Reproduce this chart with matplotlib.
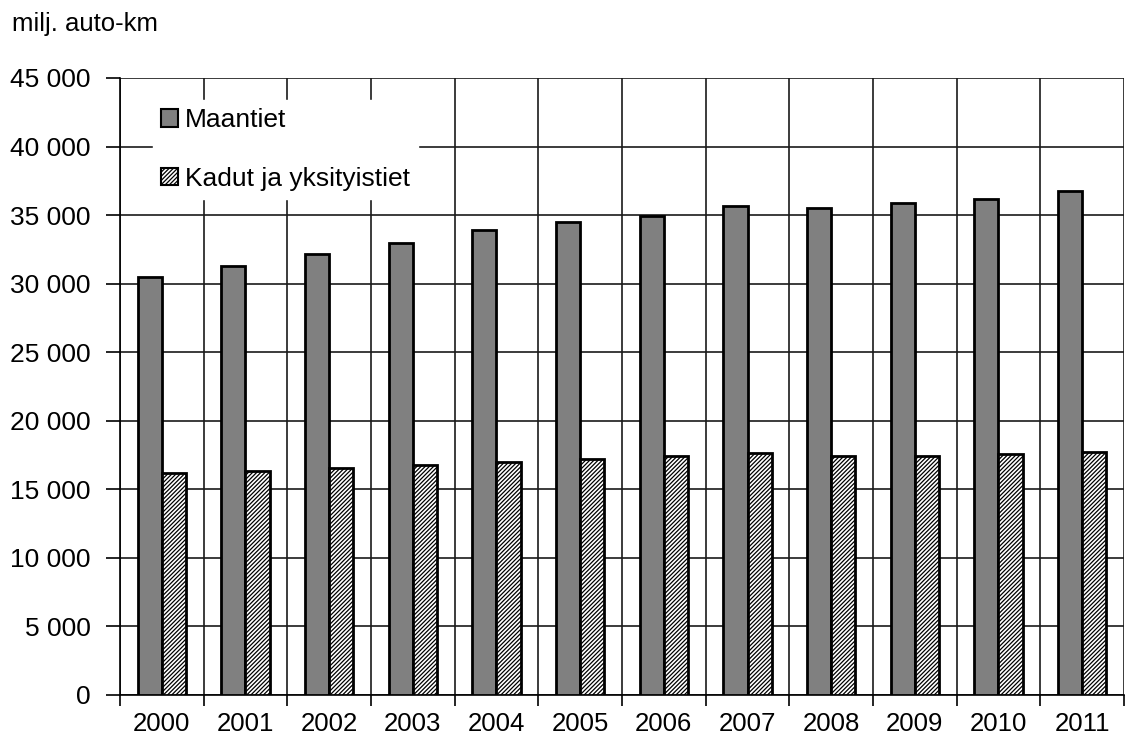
import matplotlib
matplotlib.use("Agg")
import matplotlib.pyplot as plt
import numpy as np
from matplotlib.ticker import FuncFormatter, FixedLocator

years = ["2000", "2001", "2002", "2003", "2004", "2005",
         "2006", "2007", "2008", "2009", "2010", "2011"]
maantiet = [30500, 31300, 32200, 33000, 33900, 34500,
            34900, 35700, 35550, 35850, 36200, 36750]
kadut = [16200, 16350, 16580, 16750, 17000, 17200,
         17400, 17650, 17400, 17450, 17600, 17720]
y_ticks = list(range(0, 45001, 5000))

plt.rcParams['font.family'] = ['Liberation Sans', 'DejaVu Sans']
plt.rcParams['hatch.linewidth'] = 0.9

fig = plt.figure(figsize=(11.31, 7.40), dpi=100)
ax = fig.add_axes([120 / 1131, 1 - 695 / 740, (1124 - 120) / 1131, (695 - 78) / 740])

x = np.arange(len(years))
w = 0.29
ax.bar(x - w / 2, maantiet, width=w, color="#808080", edgecolor="black",
       linewidth=2, label="Maantiet", zorder=3)
ax.bar(x + w / 2, kadut, width=w, color="white", edgecolor="black",
       linewidth=2, hatch="////////", label="Kadut ja yksityistiet", zorder=3)

ax.set_xlim(-0.5, len(years) - 0.5)
ax.set_ylim(0, 45000)
ax.set_xticks(x)
ax.set_xticklabels(years)
ax.xaxis.set_minor_locator(FixedLocator(np.arange(-0.5, len(years), 1.0)))
ax.tick_params(axis="x", which="major", length=0, labelsize=18.5, pad=12)
ax.tick_params(axis="x", which="minor", length=8, width=1.2, direction="out")
ax.set_yticks(y_ticks)
ax.yaxis.set_major_formatter(FuncFormatter(lambda v, p: f"{int(v):,}".replace(",", " ")))
ax.tick_params(axis="y", length=10, width=1.2, labelsize=19, pad=11)

ax.grid(True, axis="y", which="major", color="#1a1a1a", linewidth=1.2, zorder=0)
ax.grid(True, axis="x", which="minor", color="#1a1a1a", linewidth=1.2, zorder=0)
ax.set_axisbelow(True)
for side in ["top", "right"]:
    ax.spines[side].set_visible(False)
ax.spines["left"].set_linewidth(1.2)
ax.spines["bottom"].set_linewidth(1.2)

leg = ax.legend(loc="upper left", bbox_to_anchor=(0.02, 0.985), fontsize=19,
                frameon=True, fancybox=False, edgecolor="white", facecolor="white",
                framealpha=1, handlelength=0.65, handleheight=0.65, handletextpad=0.25,
                labelspacing=1.3, borderpad=0.3)
leg.set_zorder(5)
for h in leg.legend_handles:
    h.set_linewidth(1.5)

fig.text(12 / 1131, 1 - 24 / 740, "milj. auto-km", fontsize=18.5, va="center", ha="left")

fig.savefig("out.png", dpi=100, facecolor="white")
